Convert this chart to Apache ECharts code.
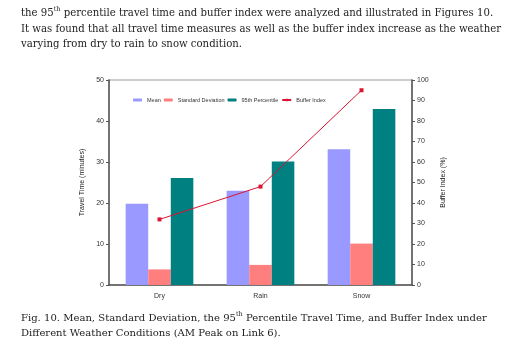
<!DOCTYPE html>
<html>
<head>
<meta charset="utf-8">
<script src="https://cdn.jsdelivr.net/npm/echarts@6/dist/echarts.min.js"></script>
<style>
  html, body { margin: 0; padding: 0; background: #fff; }
  #chart { width: 511px; height: 345px; }
</style>
</head>
<body>
<div id="chart"></div>
<script>
// Weather conditions on the x axis
const categories = ['Dry', 'Rain', 'Snow'];
// Travel time measures (minutes)
const meanTime = [19.8, 23.0, 33.1];
const stdDev = [3.8, 4.9, 10.1];
const pct95 = [26.1, 30.1, 42.9];
// Buffer index (%)
const bufferIndex = [32, 48, 95];
// Axis ticks
const leftTicks = [0, 10, 20, 30, 40, 50];
const rightTicks = [0, 10, 20, 30, 40, 50, 60, 70, 80, 90, 100];

const serif = '"DejaVu Serif", "Liberation Serif", serif';
const sans = '"Liberation Sans", Arial, sans-serif';

const chart = echarts.init(document.getElementById('chart'), null, { renderer: 'canvas' });

const axisLabelStyle = { fontFamily: sans, fontSize: 7, color: '#333' };

chart.setOption({
  animation: false,
  backgroundColor: '#fff',
  grid: {
    left: 109, right: 99, top: 80, bottom: 60,
    show: true, borderColor: '#bdbdbd', borderWidth: 1.5, backgroundColor: 'transparent'
  },
  legend: {
    left: 133, top: 97, padding: 0,
    itemWidth: 9, itemHeight: 3, itemGap: 3,
    textStyle: { fontFamily: sans, fontSize: 5.5, color: '#333' },
    data: ['Mean', 'Standard Deviation', '95th Percentile', 'Buffer Index']
  },
  xAxis: {
    type: 'category',
    data: categories,
    axisLine: { lineStyle: { color: '#555', width: 1.5 } },
    axisTick: { show: false },
    axisLabel: Object.assign({ margin: 8 }, axisLabelStyle)
  },
  yAxis: [
    {
      type: 'value', min: leftTicks[0], max: leftTicks[leftTicks.length - 1], interval: 10,
      name: 'Travel Time (minutes)', nameLocation: 'middle', nameGap: 12, nameRotate: 90,
      nameTextStyle: { fontFamily: sans, fontSize: 7, color: '#222' },
      axisLine: { show: true, lineStyle: { color: '#555', width: 1.5 } },
      axisTick: { show: true, length: 3, lineStyle: { color: '#555' } },
      axisLabel: Object.assign({ margin: 5 }, axisLabelStyle),
      splitLine: { show: false }
    },
    {
      type: 'value', min: rightTicks[0], max: rightTicks[rightTicks.length - 1], interval: 10,
      name: 'Buffer Index (%)', nameLocation: 'middle', nameGap: 11, nameRotate: 90,
      nameTextStyle: { fontFamily: sans, fontSize: 7, color: '#222' },
      axisLine: { show: true, lineStyle: { color: '#555', width: 1.5 } },
      axisTick: { show: true, length: 3, lineStyle: { color: '#555' } },
      axisLabel: Object.assign({ margin: 5 }, axisLabelStyle),
      splitLine: { show: false }
    }
  ],
  series: [
    {
      name: 'Mean', type: 'bar', data: meanTime, barGap: '0%', barCategoryGap: '33%',
      itemStyle: { color: '#9999ff' }
    },
    {
      name: 'Standard Deviation', type: 'bar', data: stdDev, barGap: '0%',
      itemStyle: { color: '#ff7f7f' }
    },
    {
      name: '95th Percentile', type: 'bar', data: pct95, barGap: '0%',
      itemStyle: { color: '#008080' }
    },
    {
      name: 'Buffer Index', type: 'line', yAxisIndex: 1, data: bufferIndex,
      symbol: 'rect', symbolSize: 4,
      lineStyle: { color: '#dc1430', width: 1 },
      itemStyle: { color: '#dc1430' }, z: 5
    }
  ],
  graphic: [
    {
      type: 'text', left: 21, top: 6,
      style: {
        text: '{t|the 95}{s|th}{t| percentile travel time and buffer index were analyzed and illustrated in Figures 10.}\n' +
              '{t|It was found that all travel time measures as well as the buffer index increase as the weather}\n' +
              '{t|varying from dry to rain to snow condition.}',
        rich: {
          t: { fontFamily: serif, fontSize: 10.15, fill: '#222', lineHeight: 15.5 },
          s: { fontFamily: serif, fontSize: 6.5, fill: '#222', lineHeight: 15.5, verticalAlign: 'top', padding: [0, 0, 4, 0] }
        }
      }
    },
    {
      type: 'text', left: 21, top: 311,
      style: {
        text: '{t|Fig. 10. Mean, Standard Deviation, the 95}{s|th}{t| Percentile Travel Time, and Buffer Index under}\n' +
              '{t|Different Weather Conditions (AM Peak on Link 6).}',
        rich: {
          t: { fontFamily: serif, fontSize: 10.05, fill: '#222', lineHeight: 15 },
          s: { fontFamily: serif, fontSize: 6.5, fill: '#222', lineHeight: 15, verticalAlign: 'top', padding: [0, 0, 4, 0] }
        }
      }
    }
  ]
});
</script>
</body>
</html>
